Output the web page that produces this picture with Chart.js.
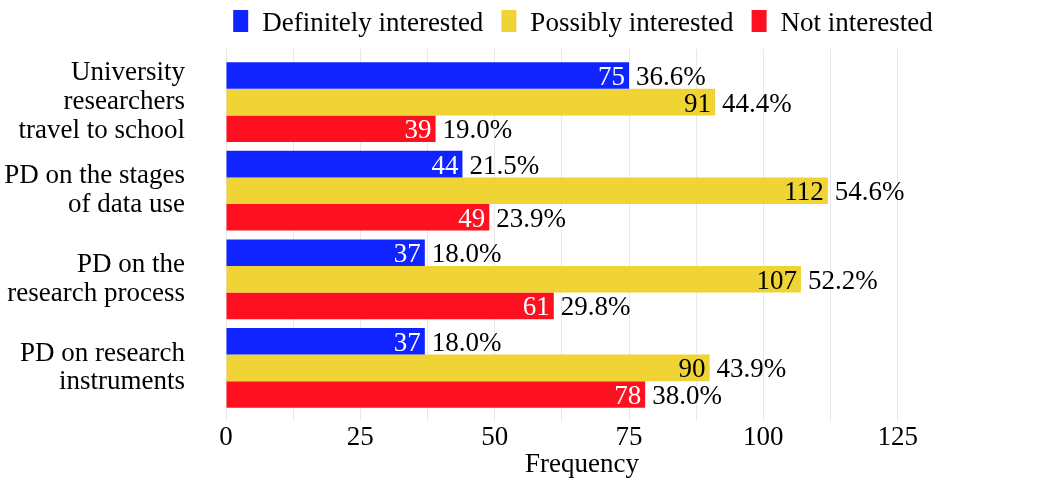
<!DOCTYPE html>
<html><head><meta charset="utf-8">
<script src="https://cdn.jsdelivr.net/npm/chart.js@4.4.1/dist/chart.umd.min.js"></script>
<style>html,body{margin:0;padding:0;background:#fff}#wrap{width:1050px;height:484px}</style>
</head><body><div id="wrap"><canvas id="c" width="1050" height="484"></canvas></div>
<script>
const categories = [
  ["University", "researchers", "travel to school"],
  ["PD on the stages", "of data use"],
  ["PD on the", "research process"],
  ["PD on research", "instruments"]
];
const seriesNames = ["Definitely interested", "Possibly interested", "Not interested"];
const definitely = [75, 44, 37, 37];
const possibly = [91, 112, 107, 90];
const notInterested = [39, 49, 61, 78];
const pctDefinitely = ["36.6%", "21.5%", "18.0%", "18.0%"];
const pctPossibly = ["44.4%", "54.6%", "52.2%", "43.9%"];
const pctNot = ["19.0%", "23.9%", "29.8%", "38.0%"];
const xTickValues = [0, 12.5, 25, 37.5, 50, 62.5, 75, 87.5, 100, 112.5, 125];
const xAxisTitle = "Frequency";

const seriesColors = ["#1024FF", "#F0D436", "#FF1020"];
const valueTextColors = ["#FFFFFF", "#000000", "#FFFFFF"];
const FONT = "'Liberation Serif', 'Times New Roman', serif";
const FS = 27;

const seriesValues = [definitely, possibly, notInterested];
const seriesPct = [pctDefinitely, pctPossibly, pctNot];

Chart.defaults.font.family = FONT;
Chart.defaults.font.size = FS;
Chart.defaults.color = "#000";

const datasets = seriesValues.map((vals, d) => ({
  label: seriesNames[d],
  data: vals.map((v, i) => ({ x: v, y: i })),
  backgroundColor: seriesColors[d],
  borderWidth: 0,
  barPercentage: 1,
  categoryPercentage: 0.9
}));

const labelPlugin = {
  id: "labels",
  afterDatasetsDraw(chart) {
    const ctx = chart.ctx;
    ctx.save();
    ctx.font = FS + "px " + FONT;
    ctx.textBaseline = "alphabetic";
    chart.data.datasets.forEach((ds, d) => {
      const meta = chart.getDatasetMeta(d);
      meta.data.forEach((el, i) => {
        ctx.textAlign = "right";
        ctx.fillStyle = valueTextColors[d];
        ctx.fillText(String(seriesValues[d][i]), el.x - 4, el.y + 9.5);
        ctx.textAlign = "left";
        ctx.fillStyle = "#000";
        ctx.fillText(seriesPct[d][i], el.x + 7, el.y + 9.5);
      });
    });
    ctx.restore();
  },
  afterDraw(chart) {
    const ctx = chart.ctx;
    ctx.save();
    ctx.font = FS + "px " + FONT;
    const boxW = 15, boxH = 22, gapBT = 14, gapItem = 18;
    const widths = seriesNames.map(n => ctx.measureText(n).width);
    let total = 0;
    widths.forEach((w, k) => { total += boxW + gapBT + w + (k < widths.length - 1 ? gapItem : 0); });
    let x = 583 - total / 2;
    ctx.textBaseline = "alphabetic";
    ctx.textAlign = "left";
    seriesNames.forEach((n, k) => {
      ctx.fillStyle = seriesColors[k];
      ctx.fillRect(x, 10, boxW, boxH);
      x += boxW + gapBT;
      ctx.fillStyle = "#000";
      ctx.fillText(n, x, 31);
      x += widths[k] + gapItem;
    });
    ctx.restore();
  }
};

new Chart(document.getElementById("c"), {
  type: "bar",
  data: { datasets },
  options: {
    responsive: false,
    animation: false,
    devicePixelRatio: 1,
    indexAxis: "y",
    layout: { padding: { top: 49, right: 112, bottom: 0, left: 0 } },
    plugins: { legend: { display: false }, tooltip: { enabled: false } },
    scales: {
      x: {
        type: "linear",
        min: 0,
        max: 132.5,
        afterBuildTicks: s => { s.ticks = xTickValues.map(v => ({ value: v })); },
        afterFit: s => { s.height = 63; s.paddingLeft = 0; s.paddingRight = 0; },
        grid: { color: "#E8E8E8", lineWidth: 1, drawTicks: false },
        border: { display: false },
        ticks: {
          padding: 1, autoSkip: false, maxRotation: 0, color: "#000",
          font: { size: FS, family: FONT },
          callback: v => (v % 25 === 0 ? String(v) : "")
        },
        title: { display: true, text: xAxisTitle, color: "#000", font: { size: FS, family: FONT }, padding: { top: 0, bottom: 3 } }
      },
      y: {
        type: "linear",
        reverse: true,
        offset: false,
        min: -0.6,
        max: 3.6,
        afterBuildTicks: s => { s.ticks = categories.map((_, i) => ({ value: i })); },
        afterFit: s => { s.width = 226; s.paddingTop = 0; s.paddingBottom = 0; },
        grid: { display: false, offset: false },
        border: { display: false },
        ticks: {
          padding: 33, autoSkip: false, color: "#000",
          font: { size: FS, family: FONT, lineHeight: 1.07 },
          callback: v => categories[Math.round(v)]
        }
      }
    }
  },
  plugins: [labelPlugin]
});
</script>
</body></html>
